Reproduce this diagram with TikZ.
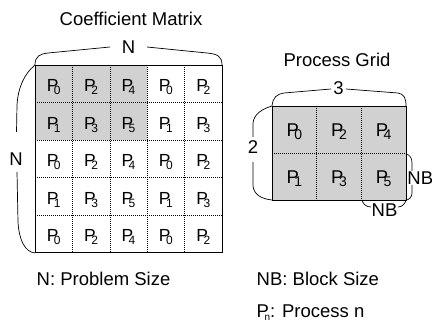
\documentclass[tikz,border=0pt]{standalone}
\usepackage{fontspec}
\setmainfont{Liberation Sans}
\definecolor{blockgray}{gray}{0.82}
\newcommand{\proc}[2][12]{P\kern-4.5pt\raisebox{-3pt}{\fontsize{#1}{#1}\selectfont #2}}
\begin{document}
\begin{tikzpicture}[x=1pt,y=-1pt,
  lbl/.style={font=\fontsize{18.5}{18.5}\selectfont,inner sep=0pt},
  brace/.style={line width=.7pt},
  grid/.style={dash pattern=on .8pt off 1.2pt,line width=.6pt},
  cell/.style={anchor=base,inner sep=0pt}]
\useasboundingbox (0,0) rectangle (432,321);

% coefficient matrix
\node[lbl,anchor=base] (mtitle) at (131,26) {Coefficient Matrix};
\begin{scope}[shift={(35,65)},x=37.4pt,y=-37.55pt]
\fill[blockgray] (0,0) rectangle (3,2);
\foreach \i in {1,...,4}
{
    \draw[grid] (\i,0)--(\i,5);
    \draw[grid] (0,\i)--(5,\i);
}
\draw[line width=.9pt] (0,0) rectangle (5,5);
\foreach \r in {0,...,4}
  \foreach \c in {0,...,4}
  {
    \pgfmathtruncatemacro\p{2*mod(\c,3)+mod(\r,2)}
    \node[cell,font=\fontsize{17.5}{17.5}\selectfont,yshift=-8pt] (m-\r-\c) at (\c+.5,\r+.5) {\proc{\p}};
  }
\end{scope}

\node[lbl] (ntop) at (128.5,47) {N};
\draw[brace] (35,65) .. controls (35,56) and (40,54) .. (48,53) -- (110,47);
\draw[brace] (147,47) -- (207,53) .. controls (217,54) and (222,56) .. (222,65);
\node[lbl] (nleft) at (16,159) {N};
\draw[brace] (35,65) .. controls (24,74) and (18,88) .. (17,105) -- (16.5,132);
\draw[brace] (17,172) -- (18,222) .. controls (19,240) and (25,252) .. (35,253);

% process grid
\node[lbl,anchor=base] (gtitle) at (337,67) {Process Grid};
\begin{scope}[shift={(272,106)},x=44.67pt,y=-47pt]
\fill[blockgray] (0,0) rectangle (3,2);
\draw[grid] (1,0)--(1,2);
\draw[grid] (2,0)--(2,2);
\draw[grid] (0,1)--(3,1);
\draw[line width=.9pt] (0,0) rectangle (3,2);
\foreach \r in {0,1}
  \foreach \c in {0,1,2}
  {
    \pgfmathtruncatemacro\p{2*\c+\r}
    \node[cell,font=\fontsize{18.5}{18.5}\selectfont,yshift=-7.5pt] (g-\r-\c) at (\c+.5,\r+.5) {\proc[14]{\p}};
  }
\end{scope}

\node[lbl] (gcols) at (338.5,88) {3};
\draw[brace] (272,106) .. controls (273,97) and (277,94) .. (284,93) -- (331,89);
\draw[brace] (346,89) -- (398,93) .. controls (404,94) and (406,98) .. (406,106);
\node[lbl] (grows) at (253,147.5) {2};
\draw[brace] (272,106) .. controls (262,109) and (254,114) .. (253,123) -- (253,137);
\draw[brace] (253,162) -- (253,186) .. controls (254,195) and (262,199) .. (272,200);

\node[lbl] (nbright) at (420.3,178) {NB};
\draw[brace] (406,154) .. controls (410,155) and (412,158) .. (412,163) -- (412,171);
\draw[brace] (412,185) -- (412,193) .. controls (412,197) and (409,200) .. (406,200);
\node[lbl] (nbbottom) at (384.5,210.5) {NB};
\draw[brace] (362,200) .. controls (363,204) and (366,207) .. (371,207);
\draw[brace] (398,207) .. controls (402,207) and (405,204) .. (406,200);

% legend
\node[lbl,anchor=base west] (nsize) at (36.5,286) {N: Problem Size};
\node[lbl,anchor=base west] (nbsize) at (256.5,286) {NB: Block Size};
\node[lbl,anchor=base west] (pn) at (256.5,317) {\proc[10]{n}: Process n};
\end{tikzpicture}
\end{document}
